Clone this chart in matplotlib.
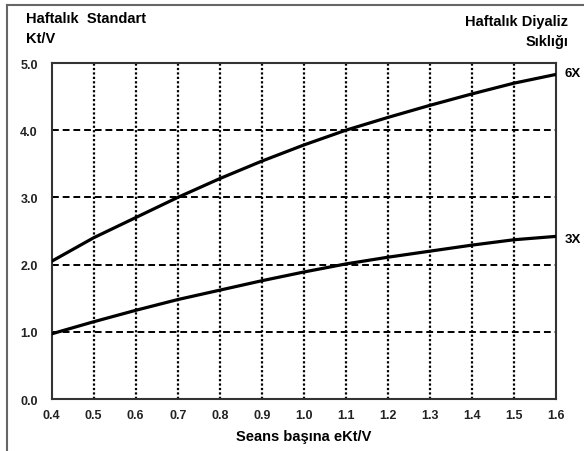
import matplotlib.pyplot as plt
from matplotlib.lines import Line2D

plt.rcParams['font.family'] = ['Liberation Sans Narrow', 'Liberation Sans', 'DejaVu Sans']

# eKt/V per seans
x = [0.4, 0.5, 0.6, 0.7, 0.8, 0.9, 1.0, 1.1, 1.2, 1.3, 1.4, 1.5, 1.6]
# haftalik standart Kt/V
std_6x = [2.05, 2.40, 2.70, 3.00, 3.28, 3.54, 3.78, 4.00, 4.19, 4.37, 4.54, 4.70, 4.83]
std_3x = [0.97, 1.15, 1.32, 1.48, 1.62, 1.76, 1.89, 2.01, 2.11, 2.20, 2.29, 2.37, 2.42]
x_ticks = [0.4, 0.5, 0.6, 0.7, 0.8, 0.9, 1.0, 1.1, 1.2, 1.3, 1.4, 1.5, 1.6]
y_ticks = [0.0, 1.0, 2.0, 3.0, 4.0, 5.0]

fig = plt.figure(figsize=(5.84, 4.52), dpi=100)
ax = fig.add_axes([0.0885, 0.115, 0.8635, 0.7434])

# dikey noktali izgara, yatay kesikli izgara
for xv in x_ticks[1:-1]:
    ax.axvline(xv, color='black', lw=1.6, ls=(0, (1, 1)), zorder=1)
for yv in y_ticks[1:-1]:
    ax.axhline(yv, color='black', lw=1.4, ls=(0, (3.5, 2)), zorder=1)

ax.plot(x, std_6x, color='black', lw=2.3, zorder=3)
ax.plot(x, std_3x, color='black', lw=2.3, zorder=3)

ax.set_xlim(0.4, 1.6)
ax.set_ylim(0.0, 5.0)
ax.set_xticks(x_ticks)
ax.set_yticks(y_ticks)
ax.set_xticklabels([f'{v:.1f}' for v in x_ticks], fontsize=9, fontweight='bold')
ax.set_yticklabels([f'{v:.1f}' for v in y_ticks], fontsize=9, fontweight='bold')
ax.tick_params(axis='x', length=0, pad=7, colors='#222222')
ax.tick_params(axis='y', length=0, pad=10, colors='#222222')
for s in ax.spines.values():
    s.set_color('#333333')
    s.set_linewidth(1.5)

ax.set_xlabel('Seans başına eKt/V', fontsize=10.5, fontweight='bold', labelpad=6)

fig.text(0.045, 0.958, 'Haftalık  Standart', fontsize=10.5, fontweight='bold', va='center', ha='left')
fig.text(0.045, 0.913, 'Kt/V', fontsize=10.5, fontweight='bold', va='center', ha='left')
fig.text(0.973, 0.952, 'Haftalık Diyaliz', fontsize=10.5, fontweight='bold', va='center', ha='right')
fig.text(0.973, 0.907, 'Sıklığı', fontsize=10.5, fontweight='bold', va='center', ha='right')

ax.annotate('6X', xy=(1.6, std_6x[-1]), xytext=(6, 1), textcoords='offset points',
            fontsize=9.5, fontweight='bold', va='center', ha='left', annotation_clip=False)
ax.annotate('3X', xy=(1.6, std_3x[-1]), xytext=(6, -2), textcoords='offset points',
            fontsize=9.5, fontweight='bold', va='center', ha='left', annotation_clip=False)

# dis cerceve
fig.add_artist(Line2D([7 / 584, 7 / 584], [0, 1 - 6 / 452], color='#666666', lw=1.5))
fig.add_artist(Line2D([7 / 584, 1], [1 - 6 / 452, 1 - 6 / 452], color='#666666', lw=1.5))

fig.savefig('out.png', dpi=100)
